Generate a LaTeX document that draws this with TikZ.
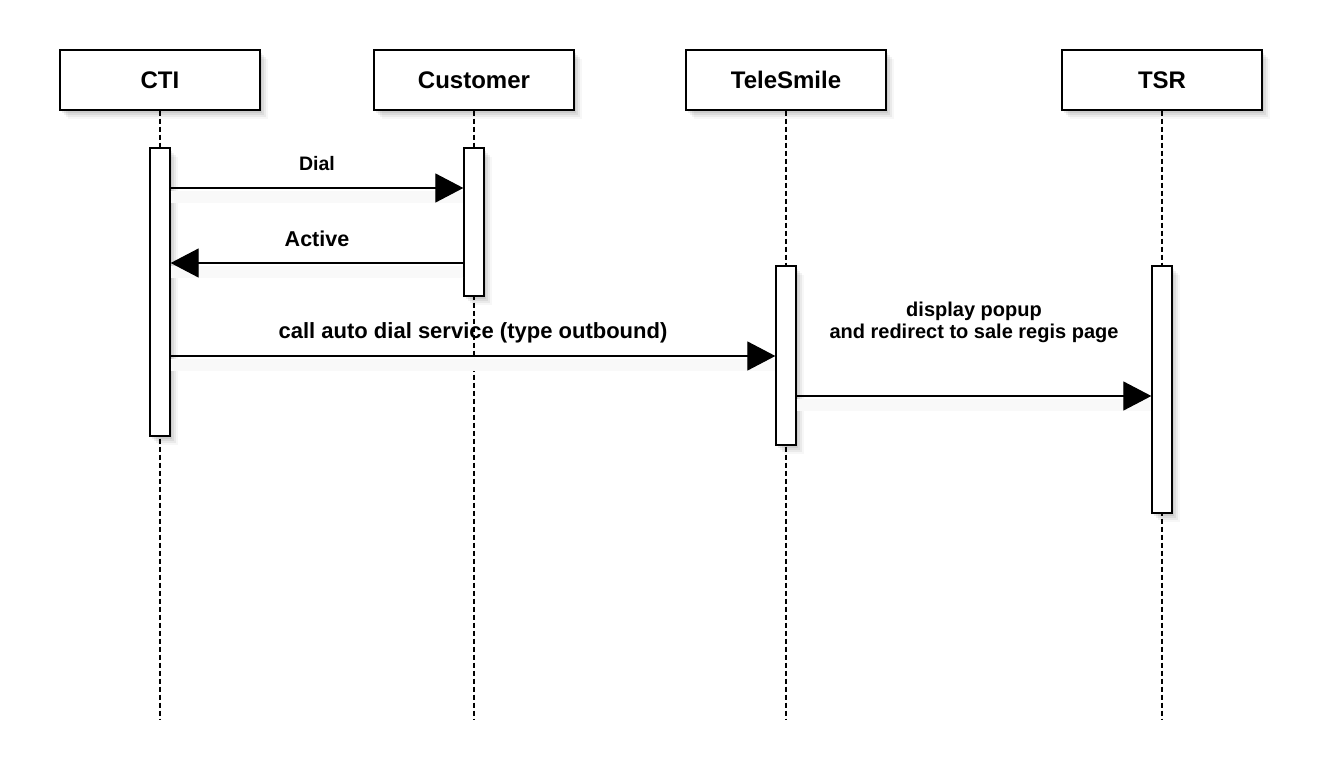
\documentclass[tikz,border=0pt]{standalone}
\usepackage{fontspec}
\setmainfont{Liberation Sans}
\usetikzlibrary{shadows,arrows.meta}
\tikzset{
  softshadow/.style={
    general shadow={shadow xshift=2pt, shadow yshift=-3pt, fill=black, opacity=.07},
    general shadow={shadow xshift=4pt, shadow yshift=-5pt, fill=black, opacity=.06},
    general shadow={shadow xshift=6pt, shadow yshift=-7pt, fill=black, opacity=.05},
    general shadow={shadow xshift=8pt, shadow yshift=-9pt, fill=black, opacity=.03}},
  headbox/.style={draw, line width=1.3pt, fill=white, minimum width=200pt, minimum height=60pt,
    inner sep=0pt, font=\bfseries\fontsize{24}{28}\selectfont, softshadow},
  actbox/.style={draw, line width=1.3pt, fill=white, minimum width=20pt, inner sep=0pt, softshadow},
  lifeline/.style={draw, line width=1.1pt, dash pattern=on 5pt off 3pt},
  msg/.style={draw, line width=1.2pt, -{Triangle[length=28pt,width=29pt]},
    preaction={draw=black!2.5, line width=12pt, transform canvas={yshift=-9pt}, -}},
  lbl/.style={font=\bfseries, inner sep=0pt, align=center}
}
\begin{document}
\begin{tikzpicture}[x=1pt,y=-1pt]
\useasboundingbox (0,0) rectangle (1326,784);
\fill[white] (0,0) rectangle (1326,784);
% heads
\node[headbox] (cti)  at (160,80)  {CTI};
\node[headbox] (cust) at (474,80)  {Customer};
\node[headbox] (tele) at (786,80)  {TeleSmile};
\node[headbox] (tsr)  at (1162,80) {TSR};
% lifeline ends
\coordinate (ctiend)  at (160,720);
\coordinate (custend) at (474,720);
\coordinate (teleend) at (786,720);
\coordinate (tsrend)  at (1162,720);
\draw[lifeline] (cti.south)  -- (ctiend);
\draw[lifeline] (cust.south) -- (custend);
\draw[lifeline] (tele.south) -- (teleend);
\draw[lifeline] (tsr.south)  -- (tsrend);
% activations
\node[actbox, minimum height=288pt] (ctiact)  at (160,292)   {};
\node[actbox, minimum height=148pt] (custact) at (474,222)   {};
\node[actbox, minimum height=179pt] (teleact) at (786,355.5) {};
\node[actbox, minimum height=247pt] (tsract)  at (1162,389.5) {};
% message levels
\coordinate (m1) at (0,188);
\coordinate (m2) at (0,263);
\coordinate (m3) at (0,356);
\coordinate (m4) at (0,396);
\draw[msg] (ctiact.east |- m1) -- node[lbl, midway, yshift=24pt, font=\bfseries\fontsize{19.5}{22}\selectfont] {Dial} (custact.west |- m1);
\draw[msg] (custact.west |- m2) -- node[lbl, midway, yshift=24pt, font=\bfseries\fontsize{21.5}{24}\selectfont] {Active} (ctiact.east |- m2);
\draw[msg] (ctiact.east |- m3) -- node[lbl, midway, yshift=23pt, font=\bfseries\fontsize{22}{25}\selectfont] {call auto dial service (type outbound)} (teleact.west |- m3);
\draw[msg] (teleact.east |- m4) -- node[lbl, midway, yshift=73.5pt, font=\bfseries\fontsize{20}{21.5}\selectfont] {display popup\\and redirect to sale regis page} (tsract.west |- m4);
\end{tikzpicture}
\end{document}
